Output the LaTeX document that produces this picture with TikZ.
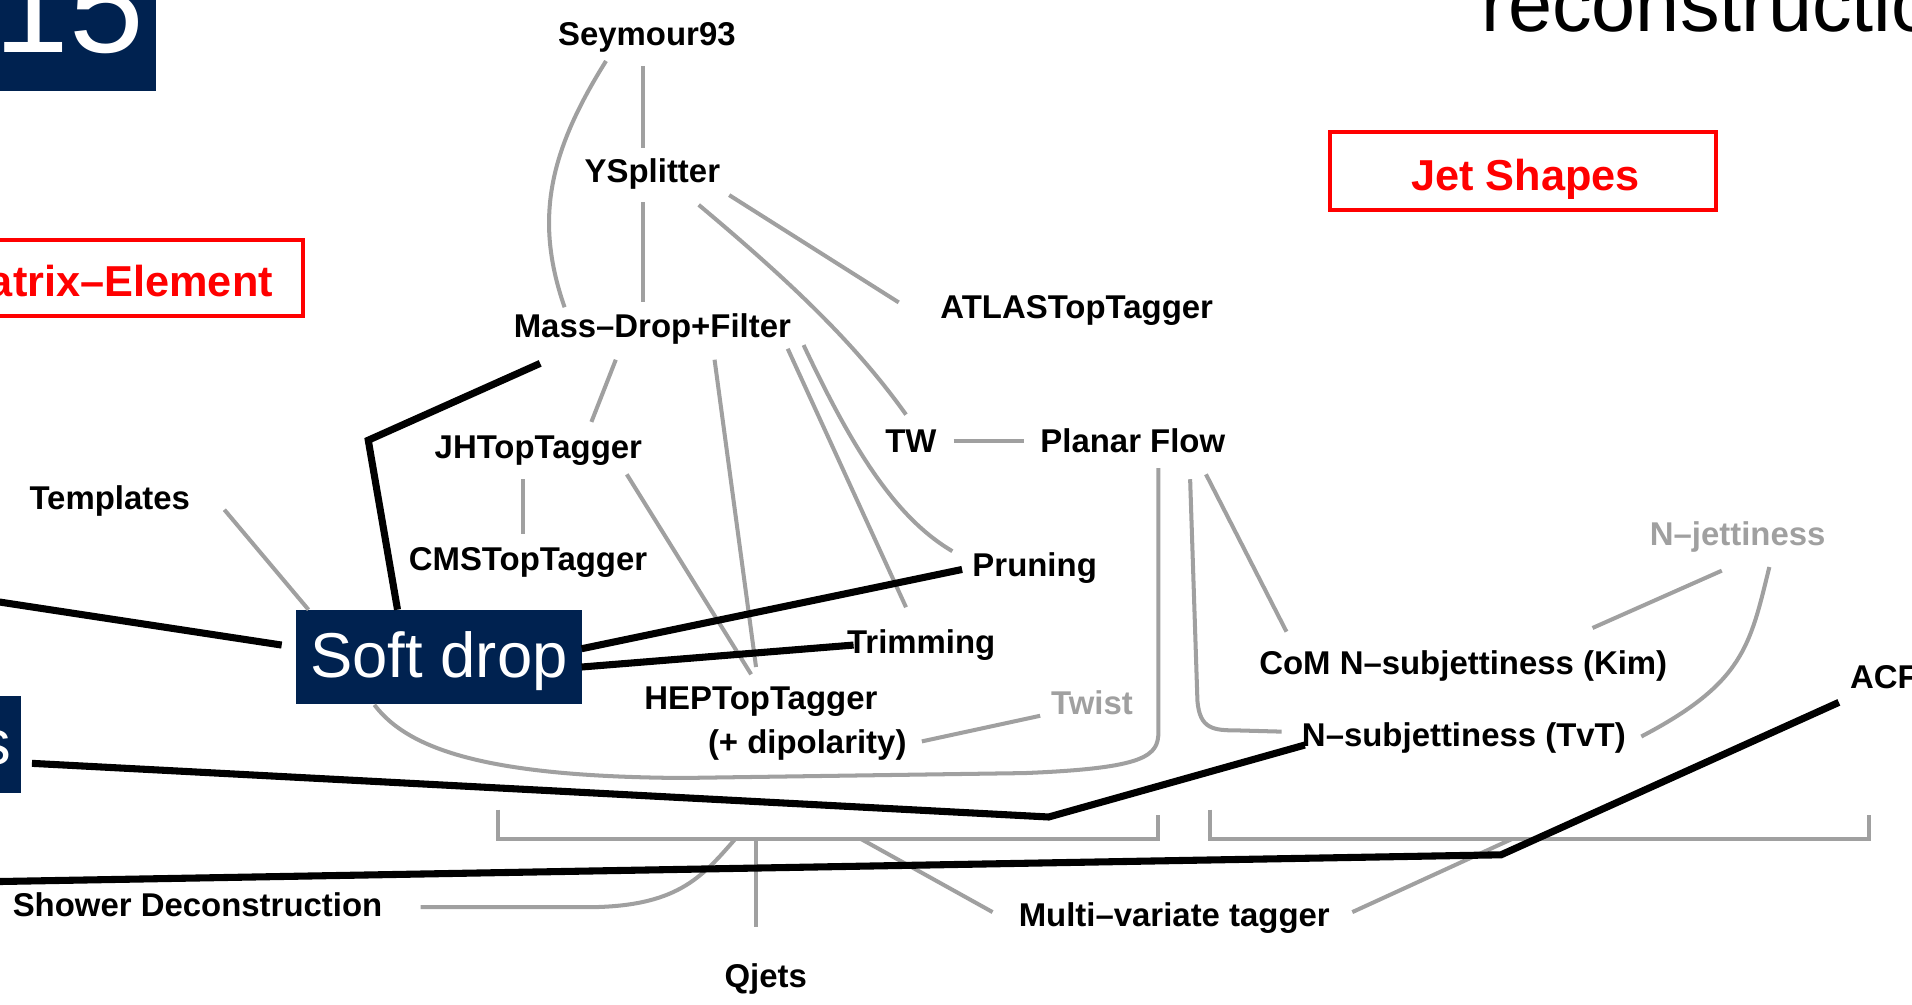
\documentclass[tikz,border=0pt]{standalone}
\usepackage{fontspec}
\setmainfont{Liberation Sans}
\definecolor{navy}{RGB}{0,34,80}
\definecolor{lgray}{RGB}{160,160,160}
\begin{document}
\begin{tikzpicture}[x=1pt,y=-1pt,
 lbl/.style={font=\bfseries\fontsize{27}{32}\selectfont, inner sep=0pt, anchor=base},
 glbl/.style={lbl, text=lgray},
 gline/.style={draw=lgray, line width=3.3pt},
 bline/.style={draw=black, line width=5.8pt},
 redbox/.style={draw=red, line width=3.3pt, inner sep=0pt},
 redtxt/.style={font=\bfseries\fontsize{35.5}{42}\selectfont, text=red, inner sep=0pt, anchor=base},
 navybox/.style={fill=navy, inner sep=0pt},
 whitetxt/.style={text=white, inner sep=0pt}]
\useasboundingbox (0,0) rectangle (1568,824);
\clip (0,0) rectangle (1568,824);

% boxes
\node[navybox, minimum width=148pt, minimum height=95pt] (box15) at (54,27.5) {};
\node[whitetxt, font=\fontsize{110}{125}\selectfont, anchor=base east] (n15) at (118,43) {15};
\node[redbox, minimum width=288.4pt, minimum height=62.8pt] (mebox) at (104.2,228) {};
\node[redtxt, anchor=base east] (me) at (224,243) {Matrix–Element};
\node[redbox, minimum width=316.8pt, minimum height=63.8pt] (jsbox) at (1249,140.5) {};
\node[redtxt] (js) at (1251,156) {Jet Shapes};
\node[navybox, minimum width=234pt, minimum height=77pt, text=white, font=\fontsize{52}{60}\selectfont, text height=38pt, text depth=3pt] (sd) at (360,538.5) {Soft drop};
\node[navybox, minimum width=37pt, minimum height=79pt] (sbox) at (-1.5,610.5) {};
\node[whitetxt, font=\fontsize{52}{60}\selectfont, anchor=base east] (stxt) at (9,627) {s};
\node[font=\fontsize{65}{78}\selectfont, inner sep=0pt, anchor=base west] (title) at (1215,26) {reconstruction};

% labels
\node[lbl] (sey) at (530.5,37) {Seymour93};
\node[lbl] (ysp) at (535,150) {YSplitter};
\node[lbl] (mdf) at (535,277) {Mass–Drop+Filter};
\node[lbl] (atlas) at (883,261) {ATLASTopTagger};
\node[lbl] (jh) at (441.5,376) {JHTopTagger};
\node[lbl] (tw) at (747,371) {TW};
\node[lbl] (pf) at (929,371) {Planar Flow};
\node[lbl] (tmpl) at (90,418) {Templates};
\node[lbl] (cms) at (433,468) {CMSTopTagger};
\node[lbl] (prun) at (848.5,473) {Pruning};
\node[lbl] (trim) at (755.5,536) {Trimming};
\node[lbl] (hep) at (624,582) {HEPTopTagger};
\node[lbl] (dip) at (662,618) {(+ dipolarity)};
\node[glbl] (twist) at (895.5,586) {Twist};
\node[glbl] (njet) at (1425,447) {N–jettiness};
\node[lbl] (com) at (1200,553) {CoM N–subjettiness (Kim)};
\node[lbl] (tvt) at (1200.5,612) {N–subjettiness (TvT)};
\node[lbl, anchor=base west] (acf) at (1517,565) {ACF};
\node[lbl] (shower) at (162,752) {Shower Deconstruction};
\node[lbl] (mva) at (963,760) {Multi–variate tagger};
\node[lbl] (qjets) at (628,810) {Qjets};

% gray connectors
\draw[gline] ([shift={(-3.5,17)}]sey.base) -- ([shift={(-8,-29)}]ysp.base);
\draw[gline] ([shift={(-33.5,13)}]sey.base) .. controls +(-47,75) and +(-25,-72) .. ([shift={(-72,-25)}]mdf.base);
\draw[gline] ([shift={(-8,16)}]ysp.base) -- ([shift={(-8,-29)}]mdf.base);
\draw[gline] ([shift={(63,10)}]ysp.base) -- ([shift={(-146,-13)}]atlas.base);
\draw[gline] ([shift={(38,18)}]ysp.base) .. controls +(80,67) and +(-40,-56) .. ([shift={(-4,-31)}]tw.base);
\draw[gline] ([shift={(-30,18)}]mdf.base) -- ([shift={(43.5,-30)}]jh.base);
\draw[gline] ([shift={(51,18)}]mdf.base) -- ([shift={(-4,-35)}]hep.base);
\draw[gline] ([shift={(111,9)}]mdf.base) -- ([shift={(-12.5,-38)}]trim.base);
\draw[gline] ([shift={(124,6)}]mdf.base) .. controls +(41,87) and +(-46,-27) .. ([shift={(-67.5,-21)}]prun.base);
\draw[gline] ([shift={(-12.5,17)}]jh.base) -- ([shift={(-4,-30)}]cms.base);
\draw[gline] ([shift={(72.5,13)}]jh.base) -- ([shift={(-8,-29)}]hep.base);
\draw[gline] ([shift={(94,0)}]tmpl.base) -- ([shift={(-107,-38.5)}]sd.center);
\draw[gline] ([shift={(35,-9)}]tw.base) -- ([shift={(-89,-9)}]pf.base);
\draw[gline] ([shift={(-53,39.5)}]sd.center) .. controls (335,615) and (400,637) .. (560,638) -- (840,634) .. controls (940,630) and (950,620) .. (950,600) -- ([shift={(21,13)}]pf.base);
\draw[gline] ([shift={(47,22)}]pf.base) -- (982,575) .. controls (984,598) and (995,599) .. (1015,599) -- ([shift={(-149.5,-12)}]tvt.base);
\draw[gline] ([shift={(60,18)}]pf.base) -- ([shift={(-145,-35)}]com.base);
\draw[gline] ([shift={(94,-10)}]dip.base) -- ([shift={(-42.5,1)}]twist.base);
\draw[gline] ([shift={(-13,21)}]njet.base) -- ([shift={(106,-38)}]com.base);
\draw[gline] ([shift={(26,18)}]njet.base) .. controls +(-16,65) and +(84,-44) .. ([shift={(145.5,-8)}]tvt.base);

% brackets
\draw[gline] (408,664) -- (408,688) -- (950,688) -- (950,668);
\draw[gline] (992,664) -- (992,688) -- (1533,688) -- (1533,668);
\coordinate (bq) at (620,688);
\coordinate (bs) at (603,688);
\coordinate (bm) at (706,688);
\coordinate (br) at (1240,688);
\draw[gline] (bq) -- ([shift={(-8,-50)}]qjets.base);
\draw[gline] (bs) .. controls (575,720) and (555,744) .. (480,744) -- ([shift={(183,-8)}]shower.base);
\draw[gline] (bm) -- ([shift={(-149,-12)}]mva.base);
\draw[gline] ([shift={(146,-12)}]mva.base) -- (br);

% black connectors
\draw[bline] ([shift={(-92,21)}]mdf.base) -- (302,361) -- ([shift={(-34,-38.5)}]sd.center);
\coordinate (edgeB) at (-5,493);
\draw[bline] (edgeB) -- ([shift={(-129,-9.5)}]sd.center);
\draw[bline] ([shift={(117,-6.5)}]sd.center) -- ([shift={(-59.5,-6)}]prun.base);
\draw[bline] ([shift={(117,8.5)}]sd.center) -- ([shift={(-55.5,-7)}]trim.base);
\draw[bline] ([shift={(9,15.5)}]sbox.east) -- (860,670) -- ([shift={(-130.5,-1)}]tvt.base);
\coordinate (edgeF) at (-5,723);
\draw[bline] (edgeF) -- (1231,701) -- ([shift={(-9,11)}]acf.base west);
\end{tikzpicture}
\end{document}
